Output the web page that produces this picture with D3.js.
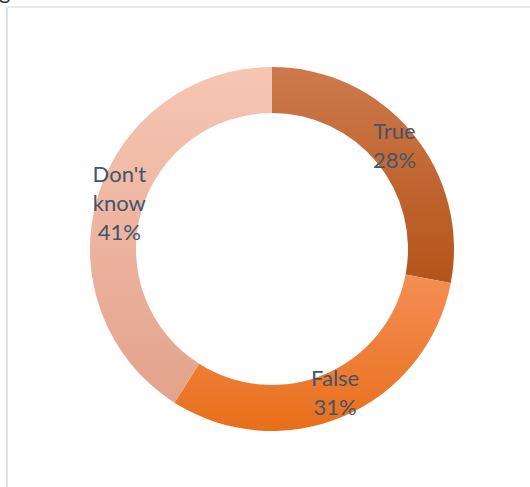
<!DOCTYPE html>
<html>
<head>
<meta charset="utf-8">
<script src="https://cdn.jsdelivr.net/npm/d3@7"></script>
<style>
  html, body { margin: 0; padding: 0; background: #ffffff; }
  svg { display: block; }
</style>
</head>
<body>
<svg id="chart" width="530" height="487"></svg>
<script>
// Survey answers and their shares (percent)
const categories = ["True", "False", "Don't know"];
const values = [28, 31, 41];
const labelLines = [["True"], ["False"], ["Don't", "know"]];

// Per-slice vertical gradient stops (top colour, bottom colour)
const gradTop = ["#cd7a4c", "#f48e55", "#f6c6b3"];
const gradBottom = ["#b4541a", "#e86f1b", "#e3a28c"];

const width = 530, height = 487;
const cx = 272, cy = 249;
const outerR = 182, innerR = 136;

const svg = d3.select("#chart");

// Chart frame (top and left edges of the plot area)
svg.append("line")
  .attr("x1", 7).attr("y1", 7).attr("x2", width).attr("y2", 7)
  .attr("stroke", "#dfe2e7").attr("stroke-width", 1.5);
svg.append("line")
  .attr("x1", 7).attr("y1", 7).attr("x2", 7).attr("y2", height)
  .attr("stroke", "#dfe2e7").attr("stroke-width", 2);

// Title text sits above the visible frame; only its tail shows
svg.append("text")
  .attr("x", -1).attr("y", -1)
  .attr("font-family", "Lato, 'Open Sans', sans-serif")
  .attr("font-size", 22)
  .attr("fill", "#333")
  .text("g");

const defs = svg.append("defs");
categories.forEach((c, i) => {
  const g = defs.append("linearGradient")
    .attr("id", "grad" + i)
    .attr("x1", 0).attr("y1", 0).attr("x2", 0).attr("y2", 1);
  g.append("stop").attr("offset", "0%").attr("stop-color", gradTop[i]);
  g.append("stop").attr("offset", "100%").attr("stop-color", gradBottom[i]);
});

const pie = d3.pie().sort(null).value(d => d);
const arcs = pie(values);

const arc = d3.arc().innerRadius(innerR).outerRadius(outerR);

const root = svg.append("g").attr("transform", `translate(${cx},${cy})`);

root.selectAll("path.slice")
  .data(arcs)
  .join("path")
  .attr("class", "slice")
  .attr("d", arc)
  .attr("fill", (d, i) => `url(#grad${i})`);

// Data labels: category name lines followed by the percentage
const lineH = 29;
root.selectAll("text.lbl")
  .data(arcs)
  .join("text")
  .attr("class", "lbl")
  .attr("font-family", "Lato, 'Open Sans', sans-serif")
  .attr("font-size", 22)
  .attr("fill", "#44546a")
  .attr("text-anchor", "middle")
  .each(function(d, i) {
    const [x, y] = arc.centroid(d);
    const lines = labelLines[i].concat([values[i] + "%"]);
    const y0 = y - (lines.length - 1) * lineH / 2 + 6;
    const t = d3.select(this);
    lines.forEach((ln, k) => {
      t.append("tspan")
        .attr("x", x)
        .attr("y", y0 + k * lineH)
        .text(ln);
    });
  });
</script>
</body>
</html>
